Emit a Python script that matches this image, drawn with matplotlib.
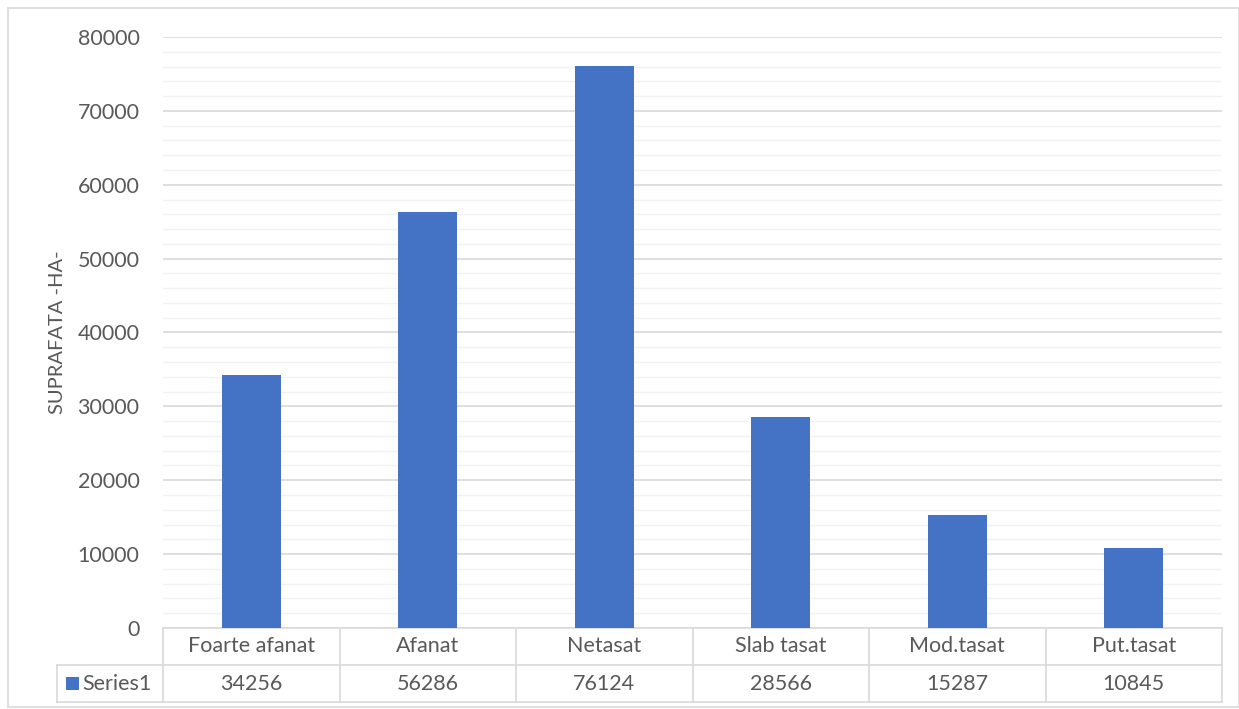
import numpy as np
import matplotlib.pyplot as plt
from matplotlib.lines import Line2D
from matplotlib.patches import Rectangle

categories = ['Foarte afanat', 'Afanat', 'Netasat', 'Slab tasat', 'Mod.tasat', 'Put.tasat']
values = [34256, 56286, 76124, 28566, 15287, 10845]
series_name = 'Series1'
y_label = 'SUPRAFATA -HA-'

plt.rcParams['font.family'] = ['Lato', 'DejaVu Sans']
txt = '#595959'
grid_major = '#d9d9d9'
grid_minor = '#f2f2f2'
bar_color = '#4472c4'
fs = 15.5

W, H = 1239, 709
fig = plt.figure(figsize=(W / 100, H / 100), dpi=100)

# plot area in pixels (left, top, right, bottom)
L, T, R, B = 163, 37, 1222, 628
ax = fig.add_axes([L / W, 1 - B / H, (R - L) / W, (B - T) / H])

x = np.arange(len(categories))
ax.bar(x, values, width=0.334, color=bar_color, zorder=3)
ax.set_xlim(-0.5, len(categories) - 0.5)
ax.set_ylim(0, 80000)
ax.set_yticks(np.arange(0, 80001, 10000))
ax.set_yticks(np.arange(0, 80001, 2000), minor=True)
ax.grid(axis='y', which='major', color=grid_major, lw=1.2, zorder=1)
ax.grid(axis='y', which='minor', color=grid_minor, lw=1.0, zorder=0)
ax.tick_params(axis='y', which='both', length=0, pad=17, labelsize=fs, labelcolor=txt)
ax.tick_params(axis='x', which='both', length=0, labelbottom=False)
for s in ax.spines.values():
    s.set_visible(False)
ax.set_ylabel(y_label, color=txt, fontsize=14.5)
ax.yaxis.set_label_coords(-(L - 66) / (R - L), 0.5)

# data table below the plot area
px_x = 1 / (R - L)
px_y = 1 / (B - T)
row_h = 37 * px_y
tl = -(L - 57) * px_x  # left edge of the legend column
n = len(categories)
bound = [i / n for i in range(n + 1)]
kw = dict(color=grid_major, lw=1.2, transform=ax.transAxes, clip_on=False)
ax.add_line(Line2D([0, 1], [0, 0], **kw))
ax.add_line(Line2D([tl, 1], [-row_h, -row_h], **kw))
ax.add_line(Line2D([tl, 1], [-2 * row_h, -2 * row_h], **kw))
ax.add_line(Line2D([tl, tl], [-row_h, -2 * row_h], **kw))
for b in bound:
    ax.add_line(Line2D([b, b], [0, -2 * row_h], **kw))
for i, (c, v) in enumerate(zip(categories, values)):
    cx = (bound[i] + bound[i + 1]) / 2
    ax.text(cx, -row_h / 2, c, transform=ax.transAxes, ha='center', va='center',
            color=txt, fontsize=fs)
    ax.text(cx, -1.5 * row_h, str(v), transform=ax.transAxes, ha='center', va='center',
            color=txt, fontsize=fs)
ax.add_patch(Rectangle((tl + 9 * px_x, -1.5 * row_h - 6.5 * px_y), 13 * px_x, 13 * px_y,
                       facecolor=bar_color, transform=ax.transAxes, clip_on=False))
ax.text(tl + 25 * px_x, -1.5 * row_h, series_name, transform=ax.transAxes,
        ha='left', va='center', color=txt, fontsize=fs)

# chart border
fig.patches.append(Rectangle((8 / W, 2 / H), (W - 8) / W, (H - 10) / H, fill=False,
                             edgecolor='#d9d9d9', lw=1.2, transform=fig.transFigure))

fig.savefig('out.png', dpi=100, facecolor='white')
